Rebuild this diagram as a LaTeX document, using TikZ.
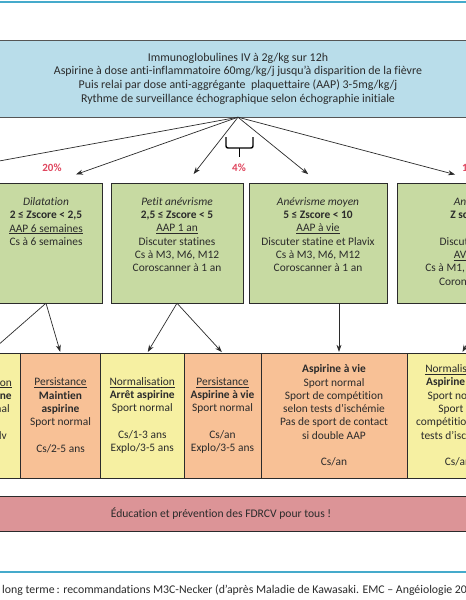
\documentclass[tikz,border=0pt]{standalone}
\usepackage{fontspec}
\setmainfont{Carlito}[Ligatures={NoCommon}]
\usetikzlibrary{arrows.meta,positioning,calc}

\definecolor{bluebox}{HTML}{B9DDEA}
\definecolor{greenbox}{HTML}{C7DAA2}
\definecolor{yellbox}{HTML}{F6F0A2}
\definecolor{orbox}{HTML}{F8C196}
\definecolor{pinkbox}{HTML}{DC9497}
\definecolor{rulecol}{HTML}{45AACB}
\definecolor{pctcol}{HTML}{E0475F}
\definecolor{ink}{HTML}{2B2B2B}

\begin{document}
\begin{tikzpicture}[x=1pt,y=-1pt,
  font=\fontsize{11.4}{13.3}\selectfont,text=ink,
  topbox/.style={rectangle,draw=ink!80,fill=bluebox,minimum width=520pt,
               minimum height=77pt,inner sep=0pt,align=center,
               font=\fontsize{11.9}{13.7}\selectfont},
  lvl/.style ={rectangle,draw=ink,fill=greenbox,minimum height=120pt,inner sep=0pt},
  lvltxt/.style={align=center,inner sep=0pt},
  nrm/.style ={rectangle,draw=ink,fill=yellbox,minimum height=125pt,inner sep=0pt,align=center},
  pers/.style={rectangle,draw=ink,fill=orbox,minimum height=125pt,inner sep=0pt,align=center},
  edu/.style ={rectangle,draw=ink,fill=pinkbox,minimum width=580pt,minimum height=35pt,
               inner sep=0pt,font=\fontsize{11.6}{13.3}\selectfont},
  pct/.style ={text=pctcol,inner sep=0pt,font=\fontsize{11}{12}\selectfont\bfseries},
  arr/.style ={-{Stealth[length=7pt,width=5pt]},draw=ink,line width=0.7pt,shorten >=1pt}
]
\useasboundingbox (0,0) rectangle (466,600);
\clip (0,0) rectangle (466,600);
\fill[white] (0,0) rectangle (466,600);

% rules
\draw[rulecol,line width=1.5pt] (-5,2) -- (471,2);
\draw[rulecol,line width=1.5pt] (-5,572) -- (471,572);

\node[topbox](top) at (238,78.5){Immunoglobulines IV à 2g/kg sur 12h\\
  Aspirine à dose anti-inflammatoire 60mg/kg/j jusqu’à disparition de la fièvre\\
  Puis relai par dose anti-aggrégante\ \ plaquettaire (AAP) 3-5mg/kg/j\\
  Rythme de surveillance échographique selon échographie initiale};

\node[pct](p1) at (52,168){20\%};
\node[pct](p2) at (239,168){4\%};
\node[pct,anchor=west](p4) at (462,168){1\%};
\draw[line width=1.4pt,rounded corners=2pt] (226,137) |- (253,148) -- (253,137);
\draw[line width=1.4pt] (239.5,148) -- (239.5,157);

\node[lvl,minimum width=112pt](g1) at (46,243){};
\node[lvl,minimum width=132pt](g2) at (177,243){};
\node[lvl,minimum width=138pt](g3) at (318,243){};
\node[lvl,minimum width=162pt](g4) at (478,243){};

\node[lvltxt,below=14.5pt of g1.north](g1t){\textit{Dilatation}\\
  \textbf{2 ≤ Zscore < 2,5}\\ \underline{AAP 6 semaines}\\ Cs à 6 semaines};
\node[lvltxt,below=14.5pt of g2.north](g2t){\textit{Petit anévrisme}\\
  \textbf{2,5 ≤ Zscore < 5}\\ \underline{AAP 1 an}\\ Discuter statines\\
  Cs à M3, M6, M12\\ Coroscanner à 1 an};
\node[lvltxt,below=14.5pt of g3.north](g3t){\textit{Anévrisme moyen}\\
  \textbf{5 ≤ Zscore < 10}\\ \underline{AAP à vie}\\ Discuter statine et Plavix\\
  Cs à M3, M6, M12\\ Coroscanner à 1 an};
\node[lvltxt,below=14.5pt of g4.north](g4t){\textit{Anévrisme}\\
  \textbf{Z score ≥ 10}\\ ~\\ Discuter statines\\ \underline{AVK + AAP}\\
  Cs à M1, M3, M6, M12\\ Coronarographie};

\node[nrm,minimum width=82.5pt](pA) at (-20.75,415.5){\underline{Normalisation}\\
  \textbf{Arrêt aspirine}\\ Sport normal\\ ~\\ Cs/1 an, rdv\\ ~};
\node[pers,minimum width=80pt](pB) at (60.5,415.5){\underline{Persistance}\\
  \textbf{Maintien}\\ \textbf{aspirine}\\ Sport normal\\ ~\\ Cs/2-5 ans};
\node[nrm,minimum width=83.5pt](pC) at (142.25,415.5){\underline{Normalisation}\\
  \textbf{Arrêt aspirine}\\ Sport normal\\ ~\\ Cs/1-3 ans\\ Explo/3-5 ans};
\node[pers,minimum width=77pt](pD) at (222.5,415.5){\underline{Persistance}\\
  \textbf{Aspirine à vie}\\ Sport normal\\ ~\\ Cs/an\\ Explo/3-5 ans};
\node[pers,minimum width=146pt](pE) at (334,415.5){\textbf{Aspirine à vie}\\
  Sport normal\\ Sport de compétition\\ selon tests d’ischémie\\
  Pas de sport de contact\\ si double AAP\\ ~\\ Cs/an};
\node[nrm,minimum width=102pt](pF) at (458,415.5){\underline{Normalisation}\\
  \textbf{Aspirine à vie}\\ Sport normal\\ Sport de\\ compétition selon\\
  tests d’ischémie\\ ~\\ Cs/an};

\node[edu](edu) at (221,513.5){Éducation et prévention des FDRCV pour tous !};

\node[anchor=base west,inner sep=0pt,font=\fontsize{11.8}{13}\selectfont](cap) at (2,593)
  {long terme\,: recommandations M3C-Necker (d’après Maladie de Kawasaki. EMC – Angéiologie 20};

\draw[arr](top.south) -- ($(g1.north)+(-122,-8)$);
\draw[arr](top.south) -- ($(g1.north)+(29,-8)$);
\draw[arr](top.south) -- ($(g2.north)+(16,-8)$);
\draw[arr](top.south) -- ($(g3.north)+(-9,-8)$);
\draw[arr](top.south) -- ($(g4.north)+(-22,-8)$);
\draw[arr](g1.south) -- ($(pA.north)+(10,0)$);
\draw[arr](g1.south) -- (pB.north);
\draw[arr](g2.south) -- ($(pC.north)+(5,0)$);
\draw[arr](g2.south) -- (pD.north);
\draw[arr]($(g3.south)+(21,0)$) -- ($(pE.north)+(5,0)$);
\draw[arr]($(g4.south)+(12,0)$) -- ($(pF.north)+(4,0)$);
\end{tikzpicture}
\end{document}
